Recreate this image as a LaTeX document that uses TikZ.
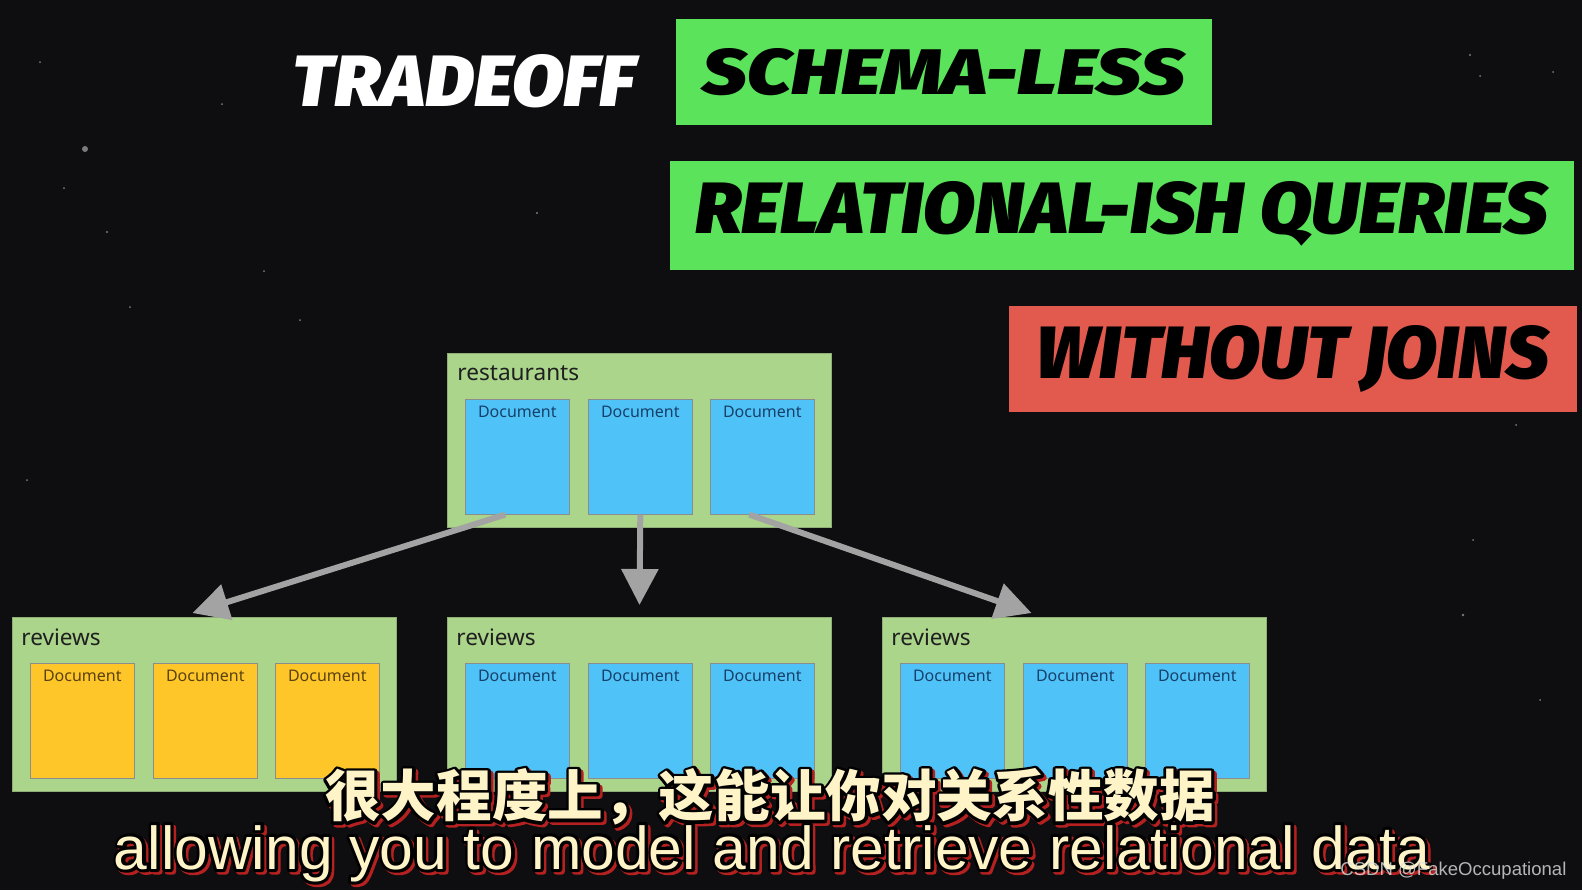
\documentclass[tikz,border=0pt]{standalone}
\usepackage{fontspec}
\usepackage{graphicx}
\setmainfont{Liberation Sans}
\newfontfamily\titlefont{Fira Sans}[BoldItalicFont={Fira Sans Black Italic}]
\newfontfamily\cjk{Noto Sans CJK SC}
\newfontfamily\docfont{Noto Sans}
\usetikzlibrary{arrows.meta,calc}
\definecolor{bg}{HTML}{0E0E11}
\definecolor{tgreen}{HTML}{5BE35B}
\definecolor{tred}{HTML}{E25A4E}
\definecolor{cgreen}{HTML}{ABD58B}
\definecolor{cedge}{HTML}{8FAE78}
\definecolor{dblue}{HTML}{4FC3F7}
\definecolor{dyellow}{HTML}{FFC629}
\definecolor{btext}{HTML}{17406B}
\definecolor{ytext}{HTML}{5A4210}
\definecolor{agrey}{HTML}{A3A3A3}
\definecolor{cream}{HTML}{FFF4C8}
\definecolor{shred}{HTML}{B52222}
\tikzset{
  titlebox/.style={anchor=north west, inner sep=0pt, outer sep=0pt},
  cont/.style={anchor=north west, fill=cgreen, draw=cedge, line width=0.5pt, minimum width=192pt, minimum height=87pt, inner sep=0pt},
  docbox/.style={anchor=north west, draw=black!45, line width=0.3pt, minimum width=52pt, minimum height=57.5pt, inner sep=0pt},
  dtxt/.style={inner sep=0pt, font=\docfont\fontsize{8}{9}\selectfont},
  clabel/.style={anchor=west, inner sep=0pt, text=black!88, font=\docfont\fontsize{11.3}{12}\selectfont},
  arr/.style={draw=agrey, line width=3pt, -{Triangle[width=18pt,length=18pt]}},
  star/.style={fill=white, opacity=0.45}
}
% stroked text: #1 stroke colour (PDF rgb), #2 line width, #3 text
\newcommand{\strk}[3]{\special{pdf:literal direct #1 RG #2 w 1 j 1 J 2 Tr}#3\special{pdf:literal direct 0 Tr}}
\newcommand{\outlined}[4]{%
  \node[anchor=#3, inner sep=0pt, text=shred] (#1-s) at ([shift={(2.5,2.5)}]#2) {\strk{0.71 0.13 0.13}{3}{#4}};
  \node[anchor=#3, inner sep=0pt, text=black] (#1-o) at (#2) {\strk{0 0 0}{3}{#4}};
  \node[anchor=#3, inner sep=0pt, text=cream] (#1) at (#2) {#4};
}
\begin{document}
\begin{tikzpicture}[x=0.5pt,y=-0.5pt]
\fill[bg] (0,0) rectangle (1582,890);
\useasboundingbox (0,0) rectangle (1582,890);

% stars
\foreach \p/\r in {(85,149)/3,(64,188)/1,(107,232)/1.2,(130,307)/1,(264,271)/1,(222,104)/1,(537,213)/1.2,(27,480)/1,(1470,55)/1.2,(1480,76)/1,(1553,72)/1,(1566,163)/1,(1516,425)/1,(1473,540)/1,(1463,615)/1.3,(1540,700)/1,(40,62)/1,(300,320)/1}
  \fill[star] \p circle (\r);

% title
\node[inner sep=0pt, text=white] (tradeoff) at (464.5,81) {\resizebox{171.5pt}{26pt}{\titlefont\bfseries\itshape TRADEOFF}};
\node[titlebox, fill=tgreen, minimum width=268pt, minimum height=53pt] (schema) at (676,19) {};
\node[inner sep=0pt] (schemat) at (schema.center) {\resizebox{241.5pt}{23pt}{\titlefont\bfseries\itshape SCHEMA-LESS}};
\node[titlebox, fill=tgreen, minimum width=452pt, minimum height=54.5pt] (rel) at (670,161) {};
\node[inner sep=0pt] (relt) at ([yshift=1pt]rel.center) {\resizebox{426.5pt}{26pt}{\titlefont\bfseries\itshape RELATIONAL-ISH QUERIES}};
\node[titlebox, fill=tred, minimum width=284pt, minimum height=53pt] (joins) at (1009,306) {};
\node[inner sep=0pt] (joinst) at (joins.center) {\resizebox{256pt}{26.5pt}{\titlefont\bfseries\itshape WITHOUT JOINS}};

% containers
\node[cont] (rest) at (447,353) {};
\node[cont] (rev1) at (12,617) {};
\node[cont] (rev2) at (447,617) {};
\node[cont] (rev3) at (882,617) {};
\node[clabel] (restl) at ([shift={(10,20)}]rest.north west) {restaurants};
\foreach \c in {rev1,rev2,rev3}
  \node[clabel] (\c-l) at ([shift={(9,20)}]\c.north west) {reviews};

\foreach \c/\f/\t in {rest/dblue/btext, rev1/dyellow/ytext, rev2/dblue/btext, rev3/dblue/btext}{
  \foreach \i/\dx in {1/18,2/141,3/263}{
    \node[docbox, fill=\f] (\c-d\i) at ([shift={(\dx,46)}]\c.north west) {};
    \node[dtxt, text=\t] (\c-t\i) at ([shift={(0,13)}]\c-d\i.north) {Document};
  }
}

% arrows
\draw[arr] ([xshift=-6pt]rest-d1.south) -- ([xshift=-6pt,yshift=2pt]rev1.north);
\draw[arr] (rest-d2.south) -- ([yshift=6pt]rev2.north);
\draw[arr] ([xshift=-6.5pt]rest-d3.south) -- ([xshift=-21.5pt,yshift=2pt]rev3.north);

% subtitles
\coordinate (zhpos) at (770,797);
\outlined{zh}{zhpos}{center}{\cjk\bfseries\fontsize{27.8}{30}\selectfont 很大程度上，这能让你对关系性数据}
\coordinate (enpos) at (772,869);
\outlined{en}{enpos}{base}{\resizebox{658pt}{!}{\fontsize{29}{30}\selectfont allowing you to model and retrieve relational data}}

% watermark
\node[anchor=base west, inner sep=0pt, text=white!75!gray, opacity=0.8] (wm) at (1340,875) {\resizebox{113pt}{!}{\fontsize{10}{11}\selectfont CSDN @FakeOccupational}};
\end{tikzpicture}
\end{document}
